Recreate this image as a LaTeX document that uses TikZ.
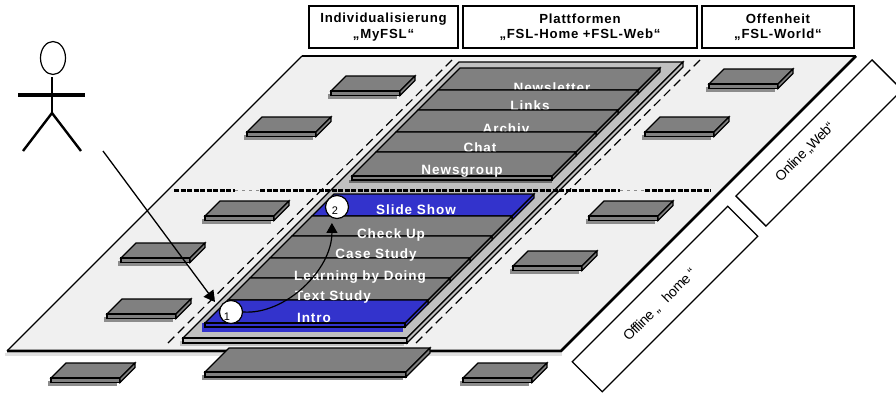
\documentclass[tikz,border=0pt]{standalone}
\usepackage{fontspec}
\setmainfont{Liberation Sans}
\usetikzlibrary{arrows.meta,shapes.geometric}
\definecolor{planecol}{HTML}{F0F0F0}
\definecolor{slabcol}{HTML}{808080}
\definecolor{shadowcol}{HTML}{8C8C8C}
\definecolor{platcol}{HTML}{C0C0C0}
\definecolor{bandblue}{HTML}{3333CC}
\tikzset{
  x=1pt,y=-1pt,
  edge/.style={draw=black,line width=1.1pt,line join=miter},
  headbox/.style={draw=black,line width=1.3pt,fill=white,align=center,inner sep=0pt,font=\fontsize{13.2}{15.2}\selectfont\bfseries\addfontfeature{LetterSpace=6}},
  rowtext/.style={text=white,anchor=base,inner sep=0pt,font=\fontsize{13.5}{15}\selectfont\bfseries\addfontfeature{LetterSpace=7}},
  sidebox/.style={draw=black,line width=1.3pt,fill=white,rotate=45,inner sep=0pt},
  sidetext/.style={rotate=45,inner sep=0pt,font=\fontsize{14}{16}\selectfont\addfontfeature{LetterSpace=-4}},
  numcircle/.style={circle,draw=black,line width=1.2pt,fill=white,minimum size=23pt,inner sep=0pt},
  numtext/.style={inner sep=0pt,font=\fontsize{11}{11}\selectfont},
  guide/.style={draw=black,line width=1.2pt,dash pattern=on 9pt off 5pt},
  midline/.style={draw=black,line width=2.4pt,dash pattern=on 5pt off 1.5pt},
  midfaint/.style={draw=black!45,line width=1pt,dash pattern=on 3pt off 4pt},
}
% slab: front-left x, front-left y, width, depth-shift, height, thickness, fill, shadow
\newcommand{\slab}[8]{%
  \fill[#8] ({#1-3},{#2+3}) -- ({#1+#3-3},{#2+3}) -- ({#1+#3-3},{#2+#6+3}) -- ({#1-3},{#2+#6+3}) -- cycle;
  \path[edge,fill=#7] (#1,#2) -- ({#1+#4},{#2-#5}) -- ({#1+#3+#4},{#2-#5}) -- ({#1+#3},#2) -- cycle;
  \path[edge,fill=#7] (#1,#2) -- ({#1+#3},#2) -- ({#1+#3},{#2+#6}) -- (#1,{#2+#6}) -- cycle;
  \path[edge,fill=#7] ({#1+#3},#2) -- ({#1+#3+#4},{#2-#5}) -- ({#1+#3+#4},{#2-#5+#6}) -- ({#1+#3},{#2+#6}) -- cycle;
}
\newcommand{\tile}[3]{\slab{#1}{#2}{69}{15}{15}{4.5}{slabcol}{#3}}
% row of the stacks: top y, bottom y, fill
\newcommand{\stackrow}[3]{%
  \path[edge,fill=#3] ({728-#1},#1) -- ({728-#1},{#1+4}) -- ({728-#2},{#2+4}) -- ({728-#2},#2) -- cycle;
  \path[edge,fill=#3] ({528-#1},#1) -- ({728-#1},#1) -- ({728-#2},#2) -- ({528-#2},#2) -- cycle;
}
\begin{document}
\begin{tikzpicture}
\useasboundingbox (0,0) rectangle (896,394);
\clip (0,0) rectangle (896,394);

% headers
\node[headbox,minimum width=149pt,minimum height=42pt] (hindiv) at (383.5,27) {Individualisierung\\„MyFSL“};
\node[headbox,minimum width=234pt,minimum height=42pt] (hplat) at (580,27) {Plattformen\hspace{5pt}\\„FSL-Home +FSL-Web“\hspace{5pt}};
\node[headbox,minimum width=152pt,minimum height=42pt] (hoffen) at (778,27) {Offenheit\\„FSL-World“};

% plane
\fill[black!12] (5,353) -- (562,353) -- (562,356) -- (5,356) -- cycle;
\fill[planecol] (7,351) -- (302,56) -- (856,56) -- (562,351) -- cycle;
\draw[line width=1.2pt] (7,351) -- (302,56);
\draw[line width=1.4pt] (302,56) -- (856,56);
\draw[line width=2.6pt,line join=miter] (7,351) -- (561,351) -- (856,56);

% tiles on plane
\tile{247}{132}{shadowcol}
\tile{331}{91}{shadowcol}
\tile{205}{216}{shadowcol}
\tile{121}{258}{shadowcol}
\tile{107}{314}{shadowcol}
\tile{589}{216}{shadowcol}
\tile{513}{266}{shadowcol}
\tile{645}{132}{shadowcol}
\tile{709}{84}{shadowcol}

% tiles below plane
\tile{51}{378}{shadowcol}
\tile{463}{378}{shadowcol}
\slab{205}{372}{201}{24}{24}{5}{slabcol}{shadowcol}

% guides
\coordinate (gla) at (168,343);
\coordinate (glb) at (455,57);
\coordinate (gra) at (416,343);
\coordinate (grb) at (703,57);
\draw[guide] (gla) -- (glb);
\draw[guide] (gra) -- (grb);

% platform
\slab{183}{338}{224}{276}{276}{5}{platcol}{platcol}

% upper stack
\fill[shadowcol!80!black] (349,180) -- (552,180) -- (552,183) -- (349,183) -- cycle;
\stackrow{68}{90}{slabcol}
\node[rowtext] (t1) at (552,92) {Newsletter};
\stackrow{90}{110}{slabcol}
\node[rowtext] (t2) at (530,110) {Links};
\stackrow{110}{132}{slabcol}
\node[rowtext] (t3) at (506,133) {Archiv};
\stackrow{132}{152}{slabcol}
\node[rowtext] (t4) at (480,152) {Chat};
\stackrow{152}{176}{slabcol}
\path[edge,fill=slabcol] (352,176) -- (552,176) -- (552,180) -- (352,180) -- cycle;
\node[rowtext] (t5) at (462,174) {Newsgroup};

% lower stack
\fill[bandblue] (202,323) -- (403,323) -- (403,332) -- (202,332) -- cycle;
\stackrow{194}{216}{bandblue}
\stackrow{216}{236}{slabcol}
\stackrow{236}{258}{slabcol}
\stackrow{258}{278}{slabcol}
\stackrow{278}{300}{slabcol}
\stackrow{300}{323}{bandblue}
\path[edge,fill=bandblue] (205,323) -- (405,323) -- (405,327) -- (205,327) -- cycle;
\node[rowtext] (t6) at (416,214) {Slide Show};
\node[rowtext] (t7) at (391,238) {Check Up};
\node[rowtext] (t8) at (376,258) {Case Study};
\node[rowtext] (t9) at (360,280) {Learning by Doing};
\node[rowtext] (t10) at (333,300) {Text Study};
\node[rowtext] (t11) at (314,322) {Intro};

% horizontal divider
\coordinate (ma) at (174,190.5);
\coordinate (mb) at (235,190.5);
\coordinate (mc) at (260,190.5);
\coordinate (md) at (620,190.5);
\coordinate (me) at (645,190.5);
\coordinate (mf) at (711,190.5);
\draw[midline] (ma) -- (mb);
\draw[midfaint] (mb) -- (mc);
\draw[midline] (mc) -- (md);
\draw[midfaint] (md) -- (me);
\draw[midline] (me) -- (mf);

% steps
\node[numcircle] (c1) at (231,312) {};
\node[numtext] (n1) at (227,317) {1};
\node[numcircle] (c2) at (337,207) {};
\node[numtext] (n2) at (335,211) {2};
\draw[line width=1.2pt,-{Triangle[length=10pt,width=11pt]},shorten >=5pt] (c1.east) .. controls (285,315) and (332,270) .. (c2.245);

% person
\node[ellipse,draw=black,line width=1.2pt,minimum width=25pt,minimum height=33pt,inner sep=0pt] (head) at (53,58) {};
\coordinate (neck) at (52,77);
\coordinate (hip) at (52,113);
\coordinate (handl) at (18,95);
\coordinate (handr) at (85,95);
\coordinate (footl) at (23,151);
\coordinate (footr) at (81,151);
\draw[line width=2.4pt] (neck) -- (hip);
\draw[line width=4.6pt] (handl) -- (handr);
\draw[line width=2.4pt] (footl) -- (hip) -- (footr);

% entry arrow
\coordinate (enter) at (103,151);
\coordinate (entry) at (215,302);
\draw[line width=1.3pt,-{Triangle[length=11pt,width=12pt]}] (enter) -- (entry);

% side boxes
\node[sidebox,minimum width=192.5pt,minimum height=42.4pt] (online) at (819,143) {};
\node[sidetext] (onlinet) at (805,152) {Online „Web“};
\node[sidebox,minimum width=220pt,minimum height=42.4pt] (offline) at (665,299) {};
\node[sidetext] (offlinet) at (660,305) {Offline „ \ \ home “};
\end{tikzpicture}
\end{document}
